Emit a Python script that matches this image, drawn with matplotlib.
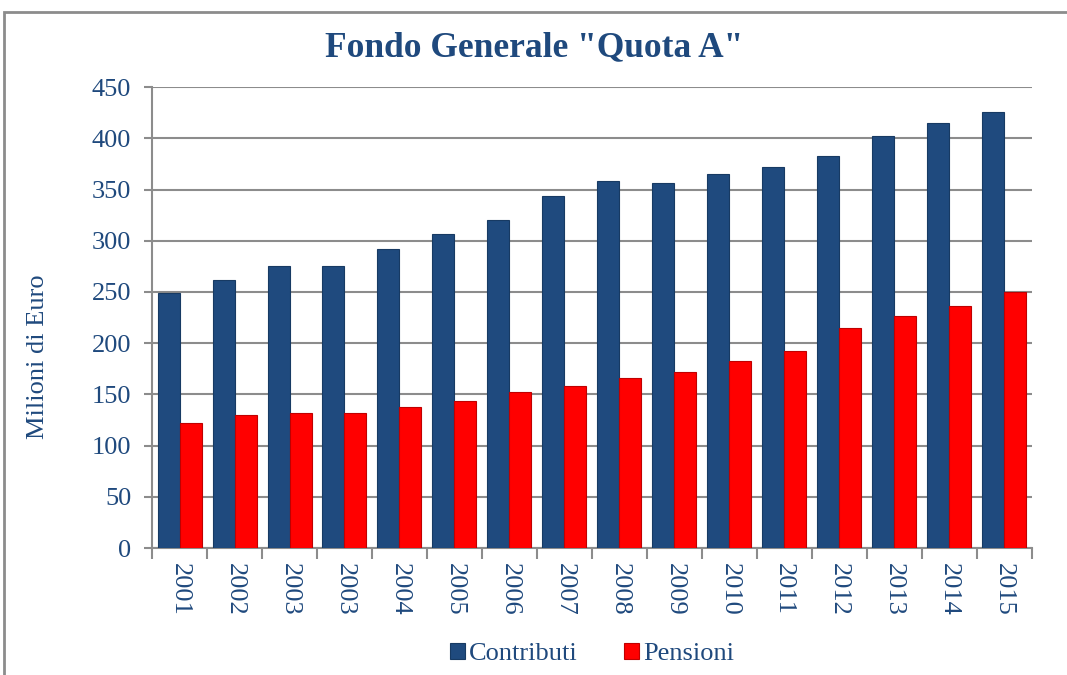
import numpy as np
import matplotlib
matplotlib.use("Agg")
import matplotlib.pyplot as plt
from matplotlib.patches import Rectangle

anni = ["2001", "2002", "2003", "2003", "2004", "2005", "2006", "2007",
        "2008", "2009", "2010", "2011", "2012", "2013", "2014", "2015"]
contributi = [249, 262, 275, 275, 292, 307, 320, 344,
              358, 356, 365, 372, 383, 402, 415, 426]
pensioni = [122, 130, 132, 132, 138, 144, 152, 158,
            166, 172, 183, 192, 215, 227, 236, 250]

blu = "#1f4a7e"
rosso = "#ff0000"
testo = "#1f497d"
grigio = "#8c8c8c"

plt.rcParams['font.family'] = ['Liberation Serif', 'DejaVu Serif']

fig = plt.figure(figsize=(10.67, 6.75), dpi=100)
ax = fig.add_axes([0.1425, 0.188, 0.8245, 0.683])

x = np.arange(len(anni))
w = 0.4
ax.bar(x - w / 2, contributi, w, color=blu, edgecolor="#173a63", linewidth=0.8,
       label="Contributi", zorder=3)
ax.bar(x + w / 2, pensioni, w, color=rosso, edgecolor="#c00000", linewidth=0.8,
       label="Pensioni", zorder=3)

ax.set_xlim(-0.5, len(anni) - 0.5)
ax.set_ylim(0, 450)
ax.set_yticks(np.arange(0, 451, 50))
ax.set_xticks(x)
ax.set_xticklabels(anni, rotation=-90)
ax.set_xticks(np.arange(-0.5, len(anni), 1), minor=True)
ax.tick_params(axis="x", which="major", length=0, labelsize=19, labelcolor=testo, pad=11)
ax.tick_params(axis="x", which="minor", length=8, width=1.5, color=grigio)
ax.tick_params(axis="y", length=6, width=1.5, color=grigio, labelsize=19, labelcolor=testo, pad=9)

ax.yaxis.grid(True, color=grigio, linewidth=1.5, zorder=0)
ax.set_axisbelow(True)
for s in ["top", "right"]:
    ax.spines[s].set_visible(False)
for s in ["left", "bottom"]:
    ax.spines[s].set_color(grigio)
    ax.spines[s].set_linewidth(1.5)

fig.text(0.036, 0.471, "Milioni di Euro", rotation=90, ha="center", va="center",
         fontsize=19, color=testo)
fig.text(0.501, 0.929, 'Fondo Generale "Quota A"', ha="center", va="center",
         fontsize=25.5, fontweight="bold", color=testo)

leg = fig.legend(loc="center", bbox_to_anchor=(0.555, 0.031), ncol=2, frameon=False,
                 fontsize=19, handlelength=0.57, handleheight=0.57, columnspacing=1.75,
                 handletextpad=0.15)
for t in leg.get_texts():
    t.set_color(testo)

# cornice esterna
fig.patches.append(Rectangle((0.004, -0.2), 1.2, 1.182, transform=fig.transFigure,
                             fill=False, edgecolor=grigio, linewidth=2))

fig.savefig("out.png", dpi=100)
